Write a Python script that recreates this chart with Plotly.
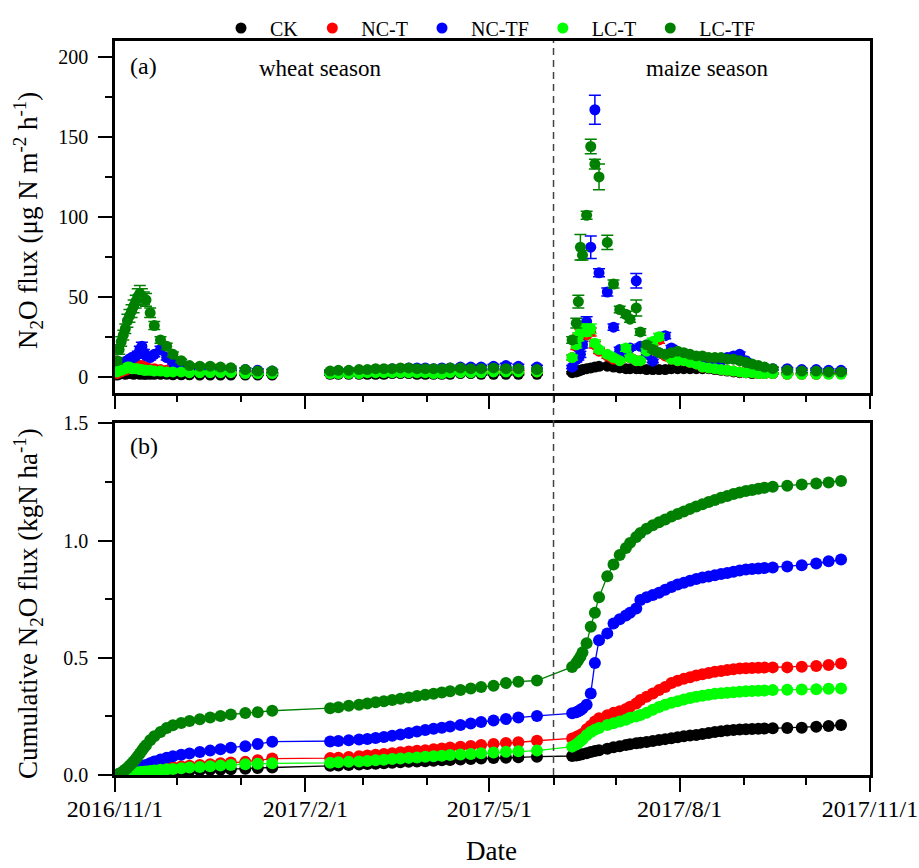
import plotly.graph_objects as go

# ---------------- data ----------------
dates_wheat1 = ["2016-11-02", "2016-11-03", "2016-11-04", "2016-11-05", "2016-11-06", "2016-11-07",
                "2016-11-08", "2016-11-09", "2016-11-10", "2016-11-11", "2016-11-12", "2016-11-13",
                "2016-11-14", "2016-11-15", "2016-11-16", "2016-11-18", "2016-11-20", "2016-11-23",
                "2016-11-26", "2016-11-29", "2016-12-03", "2016-12-07", "2016-12-12", "2016-12-17",
                "2016-12-22", "2016-12-27", "2017-01-03", "2017-01-09", "2017-01-16"]
dates_wheat2 = ["2017-02-13", "2017-02-17", "2017-02-22", "2017-02-27", "2017-03-03", "2017-03-07",
                "2017-03-11", "2017-03-15", "2017-03-19", "2017-03-23", "2017-03-27", "2017-03-31",
                "2017-04-04", "2017-04-08", "2017-04-12", "2017-04-17", "2017-04-22", "2017-04-27",
                "2017-05-03", "2017-05-09", "2017-05-15", "2017-05-24"]
dates_maize = ["2017-06-10", "2017-06-12", "2017-06-13", "2017-06-14", "2017-06-15", "2017-06-17",
               "2017-06-19", "2017-06-21", "2017-06-23", "2017-06-27", "2017-06-30", "2017-07-03",
               "2017-07-06", "2017-07-08", "2017-07-11", "2017-07-13", "2017-07-16", "2017-07-19",
               "2017-07-22", "2017-07-25", "2017-07-28", "2017-07-31", "2017-08-03", "2017-08-06",
               "2017-08-09", "2017-08-12", "2017-08-15", "2017-08-18", "2017-08-21", "2017-08-24",
               "2017-08-27", "2017-08-30", "2017-09-02", "2017-09-05", "2017-09-08", "2017-09-11",
               "2017-09-15", "2017-09-22", "2017-09-29", "2017-10-06", "2017-10-12", "2017-10-18"]
dates = dates_wheat1 + dates_wheat2 + dates_maize

series_names = ["CK", "NC-T", "NC-TF", "LC-T", "LC-TF"]
series_colors = ["#000000", "#FF0000", "#0000FF", "#00FF00", "#008000"]

# N2O flux (ug N m-2 h-1)
flux_CK = [1, 1.5, 2, 2, 1.5, 2, 2.5, 2, 1.5, 2, 2, 1.5, 2, 1.5, 1.5, 1.5, 1.5, 1.5, 1.5, 1.2,
           1.2, 1.2, 1, 1, 1, 1, 1, 1, 1,
           1.5, 1.5, 1.5, 1.5, 1.5, 1.5, 1.5, 2, 2, 2, 1.5, 1.5, 1.5, 1.5, 1.5, 2, 2, 1.5, 1.5, 1.5,
           1.5, 1.5,
           2.5, 3, 3.5, 4, 4.5, 5, 5.5, 6, 6.5, 6.6, 6, 5.5, 5, 5, 5, 5, 4.5, 4.5, 4.5, 4.5, 5, 5, 5,
           5, 5, 5, 5, 4.5, 4, 3.5, 3, 2.5, 2.5, 2, 2, 2, 2, 2, 2, 2, 2, 2]
flux_NCT = [2, 3, 3, 4, 4, 5, 5, 5, 6, 6, 6, 7, 7, 6, 6, 5, 5, 4.5, 4, 4, 3.5, 3.5, 3, 3, 3, 3, 3,
            3, 2.5,
            2.5, 2.5, 3, 3, 3, 3, 3.5, 3.5, 3.5, 3, 3, 3, 3.5, 3.5, 3.5, 3, 3, 3.5, 3.5, 3.5, 3.5, 3,
            12, 19, 24, 27, 28, 26, 28, 20, 16, 13, 11, 10, 17, 12, 10, 10, 15, 20, 23, 13, 11, 10,
            10, 9, 8, 6, 5.5, 5, 4.5, 4, 3.5, 3, 2.5, 2.5, 2, 2, 2, 1.5, 1.5, 1.5, 2, 2.5]
flux_NCTF = [5, 6, 7, 8, 9, 10, 11, 12, 12, 13, 14, 17, 19, 15, 13, 12, 14, 17, 12, 9, 7, 5.8, 5,
             4.5, 4.5, 4.5, 4.5, 4, 3.5,
             3, 3.5, 3.5, 4, 4, 4.5, 4.5, 5, 5, 5.5, 5.5, 5.5, 5, 5.5, 5.5, 6, 6, 6, 6.5, 7, 6.5, 6,
             6, 10.7, 12, 14, 20, 34.5, 81, 167, 65, 53, 31, 17, 15, 18, 60, 19, 14, 9.7, 15, 25.7,
             18, 12, 11, 10, 10, 9, 9, 9, 10, 12, 13, 14, 10, 7, 6, 5, 5, 5, 4.5, 4.5, 4, 4]
flux_LCT = [3, 4, 4, 5, 5, 6, 6, 5, 5, 5, 5, 4.5, 4.5, 4, 4, 4, 3.5, 3.5, 3, 3, 3, 2.5, 2.5, 2.5,
            2.5, 2.5, 2, 2, 2,
            2, 2, 2, 2, 2.5, 2.5, 2.5, 2.5, 2.5, 2.5, 2.5, 2.5, 2, 2, 2.5, 2.5, 2.5, 2.5, 3, 3, 3, 3,
            12, 20, 25, 28, 30, 28, 30, 21, 17, 14, 12, 10, 18, 12, 10, 10, 16, 22, 25, 14, 11, 10,
            10, 9, 8, 6, 5.5, 5, 4.5, 4, 3.5, 3, 2.5, 2.5, 2, 2, 2, 1.5, 1.5, 1.5, 1.5, 1.5]
flux_LCTF = [10, 17, 22, 26, 30, 35, 38, 41, 44, 47, 50, 52, 50, 49, 48, 40, 32, 23, 19, 14, 10, 7,
             6.6, 6.6, 6, 5.6, 4.5, 3.5, 3.5,
             3.5, 4, 4, 4.5, 4.5, 5, 5, 5, 5.5, 5.5, 5, 5, 5, 5, 5.5, 5.5, 5, 5, 5.5, 5, 5, 4.5,
             23, 33.5, 47, 81, 76, 101, 144, 133, 125, 84, 58, 42, 39, 36, 43, 28, 20, 17, 15, 14, 15,
             16, 15, 14, 13, 13, 12, 12, 12, 11, 11, 10, 9, 8, 7, 6, 5, 4, 3.5, 3.5, 3, 3]

# standard errors of the flux
err_CK = [0.5, 0.5, 0.6, 0.6, 0.5, 0.6, 0.7, 0.6, 0.5, 0.6, 0.6, 0.5, 0.6, 0.5, 0.5, 0.5, 0.5, 0.5,
          0.5, 0.4, 0.4, 0.4, 0.3, 0.3, 0.3, 0.3, 0.3, 0.3, 0.3,
          0.4, 0.4, 0.4, 0.4, 0.4, 0.4, 0.4, 0.5, 0.5, 0.5, 0.4, 0.4, 0.4, 0.4, 0.4, 0.5, 0.5, 0.4,
          0.4, 0.4, 0.4, 0.4,
          0.6, 0.7, 0.8, 0.9, 1, 1.1, 1.2, 1.3, 1.3, 1.3, 1.2, 1.1, 1, 1, 1, 1, 0.9, 0.9, 0.9, 0.9,
          1, 1, 1, 1, 1, 1, 1, 0.9, 0.8, 0.7, 0.6, 0.5, 0.5, 0.4, 0.4, 0.4, 0.4, 0.4, 0.4, 0.4, 0.4,
          0.4]
err_NCT = [0.5, 0.6, 0.6, 0.8, 0.8, 1, 1, 1, 1.2, 1.2, 1.2, 1.4, 1.4, 1.2, 1.2, 1, 1, 0.9, 0.8,
           0.8, 0.7, 0.7, 0.6, 0.6, 0.6, 0.6, 0.6, 0.6, 0.5,
           0.5, 0.5, 0.6, 0.6, 0.6, 0.6, 0.7, 0.7, 0.7, 0.6, 0.6, 0.6, 0.7, 0.7, 0.7, 0.6, 0.6, 0.7,
           0.7, 0.7, 0.7, 0.6,
           1.5, 2, 2.5, 2.5, 2.5, 2.5, 2.5, 2, 1.5, 1.5, 1.5, 1, 2, 1.5, 1, 1, 1.5, 2, 2, 1.5, 1,
           1, 1, 1, 0.8, 0.7, 0.6, 0.6, 0.5, 0.5, 0.4, 0.4, 0.4, 0.4, 0.3, 0.3, 0.3, 0.3, 0.3, 0.3,
           0.4, 0.4]
err_NCTF = [1, 1, 1, 1.2, 1.2, 1.5, 1.5, 1.5, 1.5, 1.5, 2, 2, 2.5, 2, 1.5, 1.5, 1.5, 2, 1.5, 1, 1,
            1, 1, 1, 1, 1, 1, 1, 1,
            0.8, 0.8, 0.8, 1, 1, 1, 1, 1, 1, 1.2, 1.2, 1.2, 1, 1.2, 1.2, 1.2, 1.2, 1.2, 1.3, 1.5, 1.3,
            1.2,
            1, 1.5, 1.5, 2, 2, 3, 7, 9, 2.5, 2.5, 2, 1.5, 1.5, 1.5, 4.5, 1.5, 1.5, 1, 1.5, 2, 1.5, 1,
            1, 1, 1, 1, 1, 1, 1, 1.5, 1.5, 1.5, 1, 1, 1, 0.8, 0.8, 0.8, 0.8, 0.8, 0.8, 0.8]
err_LCT = [0.6, 0.8, 0.8, 1, 1, 1.2, 1.2, 1, 1, 1, 1, 0.9, 0.9, 0.8, 0.8, 0.8, 0.7, 0.7, 0.6, 0.6,
           0.6, 0.5, 0.5, 0.5, 0.5, 0.5, 0.4, 0.4, 0.4,
           0.4, 0.4, 0.4, 0.4, 0.5, 0.5, 0.5, 0.5, 0.5, 0.5, 0.5, 0.5, 0.4, 0.4, 0.5, 0.5, 0.5, 0.5,
           0.6, 0.6, 0.6, 0.6,
           1.5, 2, 2.5, 2.5, 3, 2.5, 3, 2, 1.5, 1.5, 1.5, 1, 2, 1.5, 1, 1, 1.5, 2, 2, 1.5, 1, 1, 1,
           1, 0.8, 0.7, 0.6, 0.6, 0.5, 0.5, 0.4, 0.4, 0.4, 0.4, 0.3, 0.3, 0.3, 0.3, 0.3, 0.3, 0.3,
           0.3]
err_LCTF = [2, 3, 3, 3, 3, 4, 4, 4, 4, 4, 5, 5, 5, 4, 4, 3, 2.5, 2, 2, 1.5, 1, 1, 1, 1, 1, 1, 1, 1,
            1,
            0.8, 0.8, 0.8, 1, 1, 1, 1, 1, 1.2, 1.2, 1, 1, 1, 1, 1.2, 1.2, 1, 1, 1.2, 1, 1, 1,
            2, 3, 4, 8, 3, 2.5, 4.5, 3, 8, 4.5, 2.5, 2, 2, 2, 5, 2, 1.5, 1.5, 1.5, 1.5, 1.5, 1.5,
            1.5, 1.5, 1.5, 1.5, 1.5, 1.5, 1.5, 1.5, 1.5, 1, 1, 1, 1, 1, 1, 1, 1, 1, 1, 1]

# cumulative N2O flux (kg N ha-1)
cum_CK = [0.0002, 0.0005, 0.001, 0.0015, 0.002, 0.0025, 0.003, 0.0035, 0.004, 0.0045, 0.005, 0.0055,
          0.006, 0.0065, 0.007, 0.008, 0.01, 0.012, 0.014, 0.015, 0.017, 0.018, 0.02, 0.022, 0.023,
          0.025, 0.027, 0.03, 0.032,
          0.039, 0.041, 0.043, 0.045, 0.047, 0.048, 0.05, 0.052, 0.054, 0.056, 0.058, 0.059, 0.061,
          0.063, 0.064, 0.066, 0.068, 0.07, 0.072, 0.074, 0.076, 0.078,
          0.081, 0.083, 0.085, 0.087, 0.089, 0.093, 0.098, 0.102, 0.106, 0.112, 0.118, 0.123, 0.128,
          0.131, 0.135, 0.138, 0.141, 0.145, 0.149, 0.153, 0.157, 0.161, 0.165, 0.168, 0.171, 0.175,
          0.179, 0.183, 0.187, 0.19, 0.192, 0.194, 0.195, 0.196, 0.197, 0.198, 0.199, 0.2, 0.202,
          0.206, 0.209, 0.213]
cum_NCT = [0.0005, 0.001, 0.002, 0.003, 0.004, 0.005, 0.006, 0.008, 0.009, 0.011, 0.012, 0.014,
           0.016, 0.017, 0.019, 0.021, 0.024, 0.027, 0.03, 0.033, 0.036, 0.039, 0.043, 0.046, 0.05,
           0.053, 0.056, 0.063, 0.07,
           0.072, 0.074, 0.077, 0.08, 0.083, 0.086, 0.09, 0.093, 0.097, 0.1, 0.103, 0.106, 0.11,
           0.113, 0.117, 0.12, 0.124, 0.128, 0.132, 0.136, 0.14, 0.146,
           0.156, 0.162, 0.166, 0.17, 0.176, 0.195, 0.21, 0.228, 0.242, 0.255, 0.265, 0.272, 0.281,
           0.291, 0.305, 0.32, 0.334, 0.348, 0.362, 0.375, 0.392, 0.402, 0.41, 0.417, 0.424, 0.43,
           0.435, 0.44, 0.444, 0.448, 0.451, 0.454, 0.455, 0.456, 0.457, 0.458, 0.459, 0.459, 0.462,
           0.465, 0.469, 0.476]
cum_NCTF = [0.001, 0.003, 0.005, 0.007, 0.009, 0.012, 0.015, 0.018, 0.021, 0.024, 0.027, 0.031,
            0.035, 0.039, 0.043, 0.05, 0.058, 0.066, 0.074, 0.08, 0.086, 0.092, 0.098, 0.104, 0.11,
            0.116, 0.123, 0.132, 0.142,
            0.143, 0.145, 0.148, 0.151, 0.154, 0.158, 0.162, 0.167, 0.173, 0.179, 0.186, 0.192,
            0.197, 0.202, 0.207, 0.213, 0.22, 0.226, 0.232, 0.239, 0.245, 0.252,
            0.263, 0.268, 0.272, 0.277, 0.284, 0.3, 0.348, 0.478, 0.575, 0.604, 0.646, 0.664, 0.68,
            0.692, 0.71, 0.746, 0.758, 0.768, 0.777, 0.79, 0.802, 0.812, 0.82, 0.828, 0.836, 0.842,
            0.847, 0.852, 0.857, 0.862, 0.867, 0.872, 0.876, 0.879, 0.881, 0.883, 0.885, 0.889,
            0.895, 0.902, 0.912, 0.919]
cum_LCT = [0.0004, 0.001, 0.002, 0.003, 0.004, 0.005, 0.007, 0.008, 0.009, 0.01, 0.011, 0.012,
           0.013, 0.014, 0.015, 0.017, 0.019, 0.022, 0.024, 0.026, 0.029, 0.032, 0.034, 0.037, 0.04,
           0.043, 0.046, 0.048, 0.05,
           0.052, 0.054, 0.056, 0.058, 0.06, 0.063, 0.065, 0.068, 0.07, 0.073, 0.075, 0.078, 0.08,
           0.082, 0.085, 0.087, 0.09, 0.093, 0.096, 0.099, 0.101, 0.104,
           0.121, 0.13, 0.137, 0.145, 0.152, 0.17, 0.183, 0.193, 0.2, 0.213, 0.221, 0.228, 0.236,
           0.244, 0.25, 0.256, 0.265, 0.278, 0.29, 0.3, 0.308, 0.315, 0.322, 0.328, 0.334, 0.338,
           0.342, 0.346, 0.349, 0.351, 0.353, 0.355, 0.357, 0.358, 0.359, 0.36, 0.362, 0.364, 0.365,
           0.366, 0.368, 0.369]
cum_LCTF = [0.002, 0.005, 0.01, 0.016, 0.023, 0.03, 0.039, 0.048, 0.058, 0.068, 0.08, 0.092, 0.104,
            0.116, 0.127, 0.148, 0.165, 0.183, 0.2, 0.212, 0.222, 0.23, 0.238, 0.245, 0.252, 0.258,
            0.264, 0.268, 0.274,
            0.285, 0.289, 0.295, 0.3, 0.305, 0.31, 0.315, 0.32, 0.325, 0.331, 0.337, 0.342, 0.347,
            0.352, 0.357, 0.363, 0.369, 0.375, 0.381, 0.392, 0.398, 0.403,
            0.461, 0.478, 0.49, 0.504, 0.523, 0.562, 0.632, 0.692, 0.758, 0.848, 0.898, 0.938, 0.968,
            0.99, 1.015, 1.032, 1.05, 1.065, 1.078, 1.09, 1.102, 1.113, 1.124, 1.135, 1.145, 1.155,
            1.164, 1.173, 1.182, 1.19, 1.198, 1.205, 1.211, 1.216, 1.221, 1.225, 1.229, 1.234, 1.239,
            1.243, 1.248, 1.254]

season_split_date = "2017-06-01"
x_range = ["2016-11-01", "2017-11-01"]

fluxes = [flux_CK, flux_NCT, flux_NCTF, flux_LCT, flux_LCTF]
errors = [err_CK, err_NCT, err_NCTF, err_LCT, err_LCTF]
cums = [cum_CK, cum_NCT, cum_NCTF, cum_LCT, cum_LCTF]

# ---------------- figure ----------------
W, H = 919, 868
FONT = "Liberation Serif"

fig = go.Figure()

for name, col, fl, er in zip(series_names, series_colors, fluxes, errors):
    fig.add_trace(go.Scatter(
        x=dates, y=fl, name=name, mode="markers", xaxis="x", yaxis="y",
        marker=dict(color=col, size=11, line=dict(width=0)),
        error_y=dict(type="data", array=er, color=col, thickness=1.5, width=6, visible=True),
        legendgroup=name, showlegend=True))

for name, col, cm in zip(series_names, series_colors, cums):
    fig.add_trace(go.Scatter(
        x=dates, y=cm, name=name, mode="lines+markers", xaxis="x2", yaxis="y2",
        line=dict(color=col, width=1.3),
        marker=dict(color=col, size=12, line=dict(width=0)),
        legendgroup=name, showlegend=False))

xdom = [115 / W, 870 / W]
ydom_a = [1 - 392.7 / H, 1 - 41 / H]
ydom_b = [1 - 775 / H, 1 - 423.3 / H]

common_x = dict(
    type="date", range=x_range, domain=xdom, showgrid=False, zeroline=False, automargin=False,
    showline=True, linecolor="black", linewidth=2.5, mirror=True,
    ticks="outside", ticklen=14, tickwidth=2, tickcolor="black",
    tick0="2016-11-01", dtick="M3",
    minor=dict(ticks="outside", ticklen=7, tickwidth=2, tickcolor="black", dtick="M1",
               showgrid=False),
)
common_y = dict(
    showgrid=False, zeroline=False, showline=True, linecolor="black", linewidth=2.5,
    mirror=True, ticks="outside", ticklen=14, tickwidth=2, tickcolor="black", automargin=False,
    tickfont=dict(family=FONT, size=20, color="black"), ticklabelstandoff=6,
)

fig.update_layout(
    template="none",
    width=W, height=H, autosize=False,
    margin=dict(l=0, r=0, t=0, b=0, pad=0),
    paper_bgcolor="white", plot_bgcolor="white",
    font=dict(family=FONT, color="black"),
    xaxis=dict(**common_x, anchor="y", showticklabels=False),
    xaxis2=dict(**common_x, anchor="y2", showticklabels=True, tickformat="%Y/%-m/%-d",
                tickfont=dict(family=FONT, size=24, color="black"), ticklabelstandoff=-4),
    yaxis=dict(**common_y, domain=ydom_a, anchor="x", range=[-10, 210], tick0=0, dtick=50,
               minor=dict(ticks="outside", ticklen=7, tickwidth=2, tickcolor="black",
                          dtick=25, showgrid=False)),
    yaxis2=dict(**common_y, domain=ydom_b, anchor="x2", range=[0, 1.5], tick0=0, dtick=0.5,
                tickformat=".1f",
                minor=dict(ticks="outside", ticklen=7, tickwidth=2, tickcolor="black",
                           dtick=0.25, showgrid=False)),
    legend=dict(orientation="h", x=486 / W, xanchor="center", y=1 - 28 / H, yanchor="middle",
                font=dict(family=FONT, size=20, color="black"), bgcolor="rgba(0,0,0,0)",
                itemwidth=48, traceorder="normal"),
    showlegend=True,
)

fig.add_shape(type="line", xref="x", yref="paper", x0=season_split_date, x1=season_split_date,
              y0=ydom_b[0], y1=ydom_a[1], line=dict(color="#444444", width=1.5, dash="7px,5px"))

ann_font = dict(family=FONT, size=23, color="black")
fig.add_annotation(text="(a)", xref="paper", yref="paper", x=128 / W, y=1 - 66 / H,
                   xanchor="left", yanchor="middle", showarrow=False, font=dict(family=FONT, size=24))
fig.add_annotation(text="(b)", xref="paper", yref="paper", x=128 / W, y=1 - 446 / H,
                   xanchor="left", yanchor="middle", showarrow=False, font=dict(family=FONT, size=24))
fig.add_annotation(text="wheat season", xref="paper", yref="paper", x=320 / W, y=1 - 68 / H,
                   xanchor="center", yanchor="middle", showarrow=False, font=ann_font)
fig.add_annotation(text="maize season", xref="paper", yref="paper", x=707 / W, y=1 - 68 / H,
                   xanchor="center", yanchor="middle", showarrow=False, font=ann_font)
fig.add_annotation(text="N<sub>2</sub>O flux (μg N m<sup>-2</sup> h<sup>-1</sup>)",
                   xref="paper", yref="paper", x=28 / W, y=1 - 221 / H, textangle=-90,
                   xanchor="center", yanchor="middle", showarrow=False,
                   font=dict(family=FONT, size=27, color="black"))
fig.add_annotation(text="Cumulative N<sub>2</sub>O flux (kgN ha<sup>-1</sup>)",
                   xref="paper", yref="paper", x=28 / W, y=1 - 604 / H, textangle=-90,
                   xanchor="center", yanchor="middle", showarrow=False,
                   font=dict(family=FONT, size=27, color="black"))
fig.add_annotation(text="Date", xref="paper", yref="paper", x=492 / W, y=1 - 851 / H,
                   xanchor="center", yanchor="middle", showarrow=False,
                   font=dict(family=FONT, size=27, color="black"))

fig.write_html("out.html", config={"displayModeBar": False},
               post_script="document.body.style.margin='0';document.body.style.overflow='hidden';")
